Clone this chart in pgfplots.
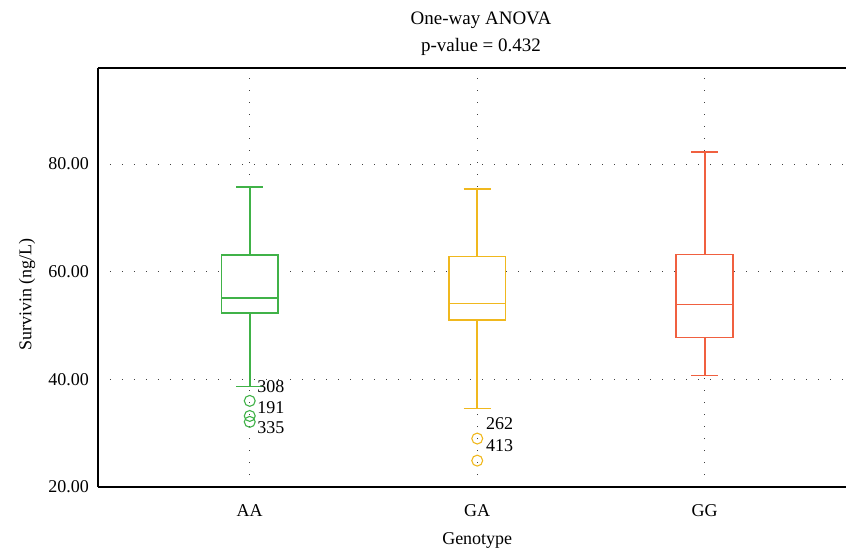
\documentclass[border=0pt]{standalone}
\usepackage{pgfplots}
\pgfplotsset{compat=1.18}
\usepgfplotslibrary{statistics}
\usepackage{fontspec}
\setmainfont{Liberation Serif}
\definecolor{cAA}{RGB}{64,178,72}
\definecolor{cGA}{RGB}{240,184,30}
\definecolor{cGG}{RGB}{240,96,64}
\begin{document}
\fontsize{18bp}{21bp}\selectfont
\begin{tikzpicture}
\begin{axis}[
  boxplot/draw direction=y,
  scale only axis, width=748bp, height=419bp,
  xmin=0.333, xmax=3.621, ymin=20, ymax=97.84,
  axis x line*=box, axis y line*=left,
  axis line style={line width=1.5bp, black},
  xtick={1,2,3}, xticklabels={AA,GA,GG},
  ytick={20,40,60,80},
  /pgf/number format/assume math mode=true,
  yticklabel style={/pgf/number format/fixed, /pgf/number format/fixed zerofill, /pgf/number format/precision=2, xshift=-3bp},
  x tick label style={yshift=-11bp},
  major tick length=0pt,
  grid=major,
  major grid style={dash pattern=on 1.2bp off 10.8bp, black!75, line width=1bp},
  title={One-way ANOVA\\p-value = 0.432},
  title style={at={(axis description cs:0.512,1)}, anchor=center, yshift=28bp, align=center, font=\fontsize{19bp}{27bp}\selectfont},
  xlabel={Genotype}, ylabel={Survivin (ng/L)},
  every axis x label/.style={at={(axis description cs:0.507,0)}, anchor=center, yshift=-53bp},
  every axis y label/.style={at={(axis description cs:-0.0949,0.46)}, rotate=90, anchor=center},
]
\addplot[boxplot prepared={draw position=1, median=55.1, upper quartile=63.1, lower quartile=52.3, upper whisker=75.7, lower whisker=38.7, box extend=0.25, whisker extend=0.12,
    every box/.style={draw=cAA, fill=white, line width=1.6bp},
    every whisker/.style={draw=cAA, line width=1.6bp},
    every median/.style={draw=cAA, line width=1.6bp}},
  color=cAA, line width=1.6bp, mark=o, mark size=4.2bp, mark options={draw=cAA, line width=1.1bp, fill=none, scale=1.3}]
  table[row sep=\\, y index=0] {36.0\\33.2\\32.1\\};
\addplot[boxplot prepared={draw position=2, median=54.1, upper quartile=62.8, lower quartile=51.0, upper whisker=75.4, lower whisker=34.6, box extend=0.25, whisker extend=0.12,
    every box/.style={draw=cGA, fill=white, line width=1.6bp},
    every whisker/.style={draw=cGA, line width=1.6bp},
    every median/.style={draw=cGA, line width=1.6bp}},
  color=cGA, line width=1.6bp, mark=o, mark size=4.2bp, mark options={draw=cGA, line width=1.1bp, fill=none, scale=1.3}]
  table[row sep=\\, y index=0] {29.0\\24.9\\};
\addplot[boxplot prepared={draw position=3, median=53.9, upper quartile=63.2, lower quartile=47.8, upper whisker=82.2, lower whisker=40.75, box extend=0.25, whisker extend=0.12,
    every box/.style={draw=cGG, fill=white, line width=1.6bp},
    every whisker/.style={draw=cGG, line width=1.6bp},
    every median/.style={draw=cGG, line width=1.6bp}},
  color=cGG, line width=1.6bp]
  coordinates {};
\node[anchor=west, inner sep=0pt] at (axis cs:1.033,38.6) {308};
\node[anchor=west, inner sep=0pt] at (axis cs:1.033,34.8) {191};
\node[anchor=west, inner sep=0pt] at (axis cs:1.033,31.0) {335};
\node[anchor=west, inner sep=0pt] at (axis cs:2.038,31.7) {262};
\node[anchor=west, inner sep=0pt] at (axis cs:2.038,27.7) {413};
\end{axis}
\pgfresetboundingbox
\useasboundingbox ([xshift=-98bp,yshift=-66bp]current axis.south west) rectangle ([yshift=68bp]current axis.north east);
\end{tikzpicture}
\end{document}
